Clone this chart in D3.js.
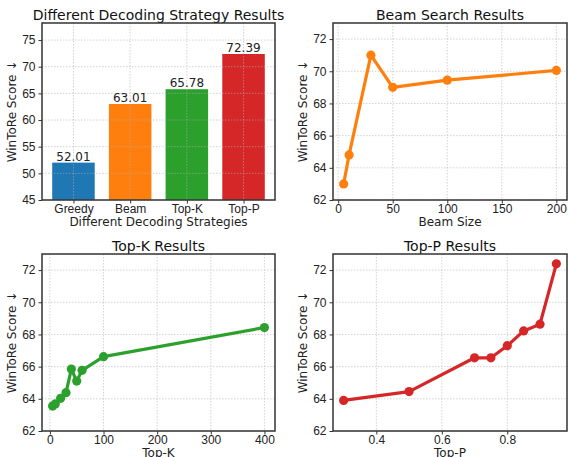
<!DOCTYPE html>
<html>
<head>
<meta charset="utf-8">
<script src="https://cdnjs.cloudflare.com/ajax/libs/d3/7.8.5/d3.min.js"></script>
<style>
  body { margin: 0; background: #fff; }
  svg { font-family: "DejaVu Sans", sans-serif; }
  .grid line { stroke: #b0b0b0; stroke-opacity: 0.7; stroke-dasharray: 1.5,1.5; stroke-width: 0.8; }
</style>
</head>
<body>
<div id="chart"></div>
<script>
// decoding strategies
var strategies = ["Greedy", "Beam", "Top-K", "Top-P"];
var strategyScores = [52.01, 63.01, 65.78, 72.39];
var strategyColors = ["#1f77b4", "#ff7f0e", "#2ca02c", "#d62728"];

// beam search
var beamSizes = [5, 10, 30, 50, 100, 200];
var beamScores = [63.0, 64.8, 71.0, 69.0, 69.45, 70.05];

// top-k
var topK = [5, 10, 20, 30, 40, 50, 60, 100, 400];
var topKScores = [63.55, 63.68, 64.03, 64.38, 65.85, 65.1, 65.77, 66.62, 68.43];

// top-p
var topP = [0.3, 0.5, 0.7, 0.75, 0.8, 0.85, 0.9, 0.95];
var topPScores = [63.9, 64.45, 66.55, 66.55, 67.3, 68.22, 68.64, 72.39];

var barTicks = [45, 50, 55, 60, 65, 70, 75];
var lineYTicks = [62, 64, 66, 68, 70, 72];

var svg = d3.select("#chart").append("svg")
    .attr("width", 569)
    .attr("height", 457);

// panel boxes
var panels = [
  {l: 42, r: 275, t: 23, b: 200},
  {l: 333, r: 567, t: 23, b: 200},
  {l: 42, r: 275, t: 254, b: 431},
  {l: 333, r: 567, t: 254, b: 431}
];

function drawAxes(p, x, y, xTicks, yTicks, xFmt, title, xlabel) {
  var g = svg.append("g");
  // grid
  var grid = g.append("g").attr("class", "grid");
  grid.selectAll(".gx").data(xTicks).enter().append("line")
      .attr("x1", function(d) { return x(d); }).attr("x2", function(d) { return x(d); })
      .attr("y1", p.t).attr("y2", p.b);
  grid.selectAll(".gy").data(yTicks).enter().append("line")
      .attr("y1", function(d) { return y(d); }).attr("y2", function(d) { return y(d); })
      .attr("x1", p.l).attr("x2", p.r);

  var xAxis = d3.axisBottom(x).tickValues(xTicks).tickSize(3.5).tickPadding(0.5).tickFormat(xFmt);
  var yAxis = d3.axisLeft(y).tickValues(yTicks).tickSize(3.5).tickPadding(3);

  var gx = g.append("g").attr("transform", "translate(0," + p.b + ")").call(xAxis);
  var gy = g.append("g").attr("transform", "translate(" + p.l + ",0)").call(yAxis);
  [gx, gy].forEach(function(a) {
    a.select(".domain").remove();
    a.selectAll("text").style("font-size", "12px").attr("fill", "#222");
    a.selectAll("line").attr("stroke", "#333");
  });

  g.append("text")
      .attr("x", (p.l + p.r) / 2).attr("y", p.t - 3)
      .attr("text-anchor", "middle").style("font-size", "14px").attr("fill", "#111")
      .text(title);
  g.append("text")
      .attr("x", (p.l + p.r) / 2).attr("y", p.b + 26)
      .attr("text-anchor", "middle").style("font-size", "12px").attr("fill", "#222")
      .text(xlabel);
  g.append("text")
      .attr("transform", "translate(" + (p.l - 26) + "," + ((p.t + p.b) / 2) + ") rotate(-90)")
      .attr("text-anchor", "middle").style("font-size", "12px").attr("fill", "#222")
      .text("WinToRe Score \u2193");
  return g;
}

function spines(p) {
  svg.append("rect")
      .attr("x", p.l).attr("y", p.t)
      .attr("width", p.r - p.l).attr("height", p.b - p.t)
      .attr("fill", "none").attr("stroke", "#333").attr("stroke-width", 1.5);
}

// ---- panel 1: bars
var p = panels[0];
var xb = d3.scaleLinear().domain([-0.555, 3.555]).range([p.l, p.r]);
var yb = d3.scaleLinear().domain([45, 78.2]).range([p.b, p.t]);
var g1 = drawAxes(p, xb, yb, [0, 1, 2, 3], barTicks,
    function(d) { return strategies[d]; },
    "Different Decoding Strategy Results", "Different Decoding Strategies");
g1.insert("g", ".grid").selectAll("rect").data(strategyScores).enter().append("rect")
    .attr("x", function(d, i) { return xb(i - 0.375); })
    .attr("width", xb(0.375) - xb(-0.375))
    .attr("y", function(d) { return yb(d); })
    .attr("height", function(d) { return p.b - yb(d); })
    .attr("fill", function(d, i) { return strategyColors[i]; });
g1.selectAll(".lbl").data(strategyScores).enter().append("text")
    .attr("x", function(d, i) { return xb(i); })
    .attr("y", function(d) { return yb(d) - 2; })
    .attr("text-anchor", "middle").style("font-size", "12px").attr("fill", "#222")
    .text(function(d) { return d.toFixed(2); });
spines(p);

// ---- line panels
function linePanel(p, xs, ys, xDomain, xTicks, xFmt, color, title, xlabel) {
  var x = d3.scaleLinear().domain(xDomain).range([p.l, p.r]);
  var y = d3.scaleLinear().domain([62, 73]).range([p.b, p.t]);
  var g = drawAxes(p, x, y, xTicks, lineYTicks, xFmt, title, xlabel);
  var pts = xs.map(function(d, i) { return [d, ys[i]]; });
  g.append("path")
      .datum(pts)
      .attr("fill", "none").attr("stroke", color).attr("stroke-width", 3.2)
      .attr("stroke-linejoin", "round")
      .attr("d", d3.line().x(function(d) { return x(d[0]); }).y(function(d) { return y(d[1]); }));
  g.selectAll(".dot").data(pts).enter().append("circle")
      .attr("cx", function(d) { return x(d[0]); })
      .attr("cy", function(d) { return y(d[1]); })
      .attr("r", 4.6).attr("fill", color);
  spines(p);
}

linePanel(panels[1], beamSizes, beamScores, [-4.75, 209.75], [0, 50, 100, 150, 200], d3.format("d"),
    "#ff7f0e", "Beam Search Results", "Beam Size");
linePanel(panels[2], topK, topKScores, [-14.75, 419.75], [0, 100, 200, 300, 400], d3.format("d"),
    "#2ca02c", "Top-K Results", "Top-K");
linePanel(panels[3], topP, topPScores, [0.2675, 0.9825], [0.4, 0.6, 0.8], d3.format(".1f"),
    "#d62728", "Top-P Results", "Top-P");
</script>
</body>
</html>
